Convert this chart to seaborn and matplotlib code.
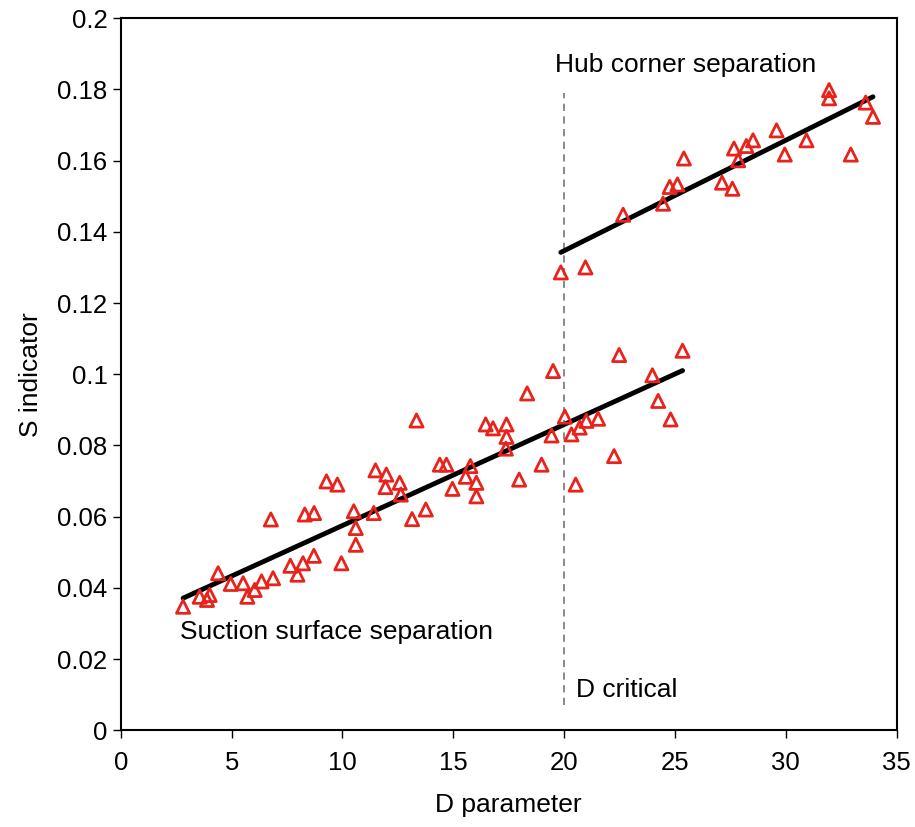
import matplotlib
matplotlib.use("Agg")
import matplotlib.pyplot as plt
import matplotlib.ticker as mticker
import seaborn as sns
import pandas as pd

# suction surface separation group (lower branch)
d_suction = [2.81, 3.56, 3.89, 4.01, 4.39, 4.96, 5.52, 5.71, 6.04, 6.35, 6.87, 6.77,
             7.65, 7.97, 8.22, 8.71, 8.30, 8.72, 9.28, 9.77, 9.95, 10.51, 10.60, 10.60,
             11.41, 11.49, 11.98, 11.94, 12.58, 12.63, 13.14, 13.34, 13.76, 14.39, 14.69,
             14.96, 15.77, 15.56, 16.04, 16.04, 16.46, 16.79, 17.40, 17.40, 17.37, 17.97,
             18.33, 18.98, 19.43, 19.50, 20.03, 20.33, 20.52, 20.70, 21.00, 21.53, 22.25,
             22.48, 23.98, 24.24, 24.80, 25.34]
s_suction = [0.0347, 0.0375, 0.0366, 0.0380, 0.0441, 0.0411, 0.0413, 0.0375, 0.0394, 0.0418,
             0.0427, 0.0592, 0.0462, 0.0437, 0.0469, 0.0490, 0.0606, 0.0610, 0.0699, 0.0690,
             0.0469, 0.0615, 0.0568, 0.0521, 0.0610, 0.0730, 0.0718, 0.0683, 0.0695, 0.0662,
             0.0593, 0.0870, 0.0620, 0.0746, 0.0746, 0.0678, 0.0742, 0.0712, 0.0695, 0.0657,
             0.0859, 0.0848, 0.0859, 0.0824, 0.0791, 0.0704, 0.0946, 0.0746, 0.0828, 0.1009,
             0.0881, 0.0831, 0.0690, 0.0850, 0.0869, 0.0875, 0.0770, 0.1054, 0.0997, 0.0925,
             0.0873, 0.1066]

# hub corner separation group (upper branch)
d_hub = [19.85, 20.96, 22.66, 24.46, 24.76, 25.11, 25.40, 27.12, 27.59, 27.66, 27.85,
         28.22, 28.52, 29.58, 29.95, 30.93, 31.95, 31.95, 32.93, 33.60, 33.93]
s_hub = [0.1286, 0.1300, 0.1448, 0.1479, 0.1526, 0.1533, 0.1606, 0.1538, 0.1521, 0.1634,
         0.1601, 0.1641, 0.1657, 0.1685, 0.1617, 0.1657, 0.1798, 0.1775, 0.1617, 0.1763,
         0.1723]

D_CRITICAL = 20
crit_span = (0.007, 0.179)

x_ticks = [0, 5, 10, 15, 20, 25, 30, 35]
y_ticks = [0, 0.02, 0.04, 0.06, 0.08, 0.1, 0.12, 0.14, 0.16, 0.18, 0.2]

df_low = pd.DataFrame({"D": d_suction, "S": s_suction})
df_hub = pd.DataFrame({"D": d_hub, "S": s_hub})

sns.set_style("white")
plt.rcParams['font.family'] = ['Liberation Sans', 'DejaVu Sans']
plt.rcParams['text.color'] = 'black'
plt.rcParams['axes.labelcolor'] = 'black'

fig = plt.figure(figsize=(9.15, 8.27), dpi=100)
ax = fig.add_axes([0.132, 0.117, 0.848, 0.861])

red = "#e8231c"
for df in (df_low, df_hub):
    sns.scatterplot(data=df, x="D", y="S", marker="^", s=90, facecolor="none",
                    edgecolor=red, linewidth=2, ax=ax, zorder=3)
    sns.regplot(data=df, x="D", y="S", scatter=False, ci=None, truncate=True,
                color="black", line_kws={"linewidth": 3.5}, ax=ax)

ax.vlines(D_CRITICAL, crit_span[0], crit_span[1], colors="#808080",
          linestyles=(0, (4, 3)), linewidth=1.3, zorder=1)

ax.text(19.6, 0.1868, "Hub corner separation", fontsize=19, va="center", ha="left")
ax.text(2.66, 0.0276, "Suction surface separation", fontsize=19, va="center", ha="left")
ax.text(20.55, 0.0113, "D critical", fontsize=19, va="center", ha="left")

ax.set_xlim(0, 35)
ax.set_ylim(0, 0.2)
ax.set_xticks(x_ticks)
ax.set_yticks(y_ticks)
ax.yaxis.set_major_formatter(mticker.FuncFormatter(lambda v, p: f"{v:g}"))

for sp in ax.spines.values():
    sp.set_color("black")
    sp.set_linewidth(1.5)

ax.tick_params(axis="both", direction="out", length=6, width=1, labelsize=18.5,
               bottom=True, left=True, colors="black")
ax.tick_params(axis="x", pad=9)
ax.set_xlabel("D parameter", fontsize=19, labelpad=13)
ax.set_ylabel("S indicator", fontsize=19, labelpad=10)

fig.savefig("out.png", dpi=100)
